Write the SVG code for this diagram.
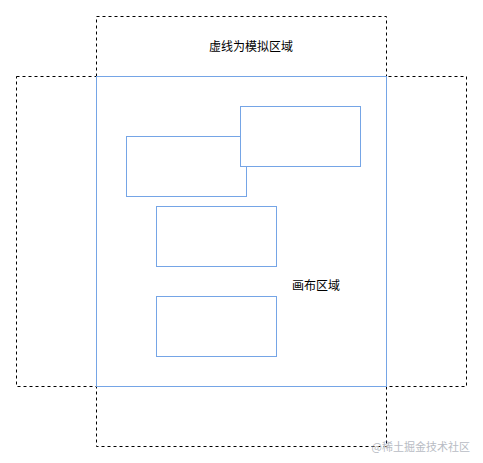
<svg xmlns="http://www.w3.org/2000/svg" width="483" height="463" viewBox="0 0 483 463">
<style>
.dash{fill:none;stroke:#000;stroke-width:1;stroke-dasharray:3 3}
.blue{fill:#fff;stroke:#75a5e6;stroke-width:1}
.t{font-family:"Noto Sans CJK SC","Liberation Sans",sans-serif;font-size:12px;fill:#000}
.wm{font-family:"Noto Sans CJK SC","Liberation Sans",sans-serif;font-size:11px;fill:#b8bcc4}
</style>
<rect width="483" height="463" fill="#fff"/>
<g id="sim-area">
<rect class="dash" x="96.5" y="16.5" width="290" height="430"/>
<rect class="dash" x="16.5" y="76.5" width="450" height="310"/>
<text class="t" x="251" y="51" text-anchor="middle">虚线为模拟区域</text>
</g>
<g id="canvas">
<rect class="blue" x="96.5" y="76.5" width="290" height="310" fill="none" style="fill:none"/>
<text class="t" x="316" y="290" text-anchor="middle">画布区域</text>
</g>
<g id="node1"><rect class="blue" x="126.5" y="136.5" width="120" height="60"/></g>
<g id="node2"><rect class="blue" x="240.5" y="106.5" width="120" height="60"/></g>
<g id="node3"><rect class="blue" x="156.5" y="206.5" width="120" height="60"/></g>
<g id="node4"><rect class="blue" x="156.5" y="296.5" width="120" height="60"/></g>
<g id="connectors"></g>
<text class="wm" x="470" y="451" text-anchor="end">@稀土掘金技术社区</text>
</svg>
